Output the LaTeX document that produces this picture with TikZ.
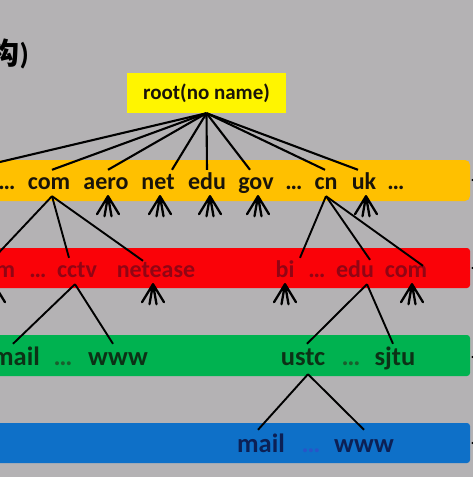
\documentclass[tikz,border=0pt]{standalone}
\usepackage{fontspec}
\setmainfont{Carlito}
\newfontfamily\cjk{Noto Sans CJK SC}
\definecolor{bg}{RGB}{180,178,180}
\definecolor{rootyellow}{RGB}{255,245,0}
\definecolor{bandyellow}{RGB}{255,192,0}
\definecolor{bandred}{RGB}{250,2,8}
\definecolor{bandgreen}{RGB}{0,178,80}
\definecolor{bandblue}{RGB}{14,112,200}
\definecolor{ytxt}{RGB}{25,20,10}
\definecolor{rtxt}{RGB}{145,5,20}
\definecolor{gtxt}{RGB}{12,50,22}
\definecolor{gdot}{RGB}{25,95,45}
\definecolor{btxt}{RGB}{12,32,85}
\definecolor{bdot}{RGB}{40,85,200}
\newcommand\drawfan[1]{%
  \draw[fanline] (#1) -- ++(-11,18) (#1) -- ++(-3.5,20) (#1) -- ++(3.5,20) (#1) -- ++(11,18);}
\begin{document}
\begin{tikzpicture}[x=1pt,y=-1pt,
  word/.style={anchor=base, inner sep=2pt, font=\bfseries\fontsize{24}{24}\selectfont, text height=17pt, text depth=5pt},
  yword/.style={word, text=ytxt},
  rword/.style={word, text=rtxt},
  gword/.style={word, font=\bfseries\fontsize{26.5}{27}\selectfont, text height=19pt, text depth=7pt, text=gtxt},
  bword/.style={word, font=\bfseries\fontsize{26.5}{27}\selectfont, text height=20pt, text depth=6pt, text=btxt},
  link/.style={draw=black, line width=1.9pt},
  rootlink/.style={draw=black, line width=2.1pt},
  fanline/.style={draw=black, line width=2.3pt, line cap=round},
  band/.style={rounded corners=3pt}]
\useasboundingbox (0,0) rectangle (473,477);
\clip (0,0) rectangle (473,477);
\fill[bg] (0,0) rectangle (473,477);

% title fragment
\node[anchor=base west, inner sep=0pt, font=\cjk\bfseries\fontsize{30}{30}\selectfont, text=black] (title) at (-11,64) {构};
\node[anchor=base west, inner sep=0pt, font=\bfseries\fontsize{30}{30}\selectfont, text=black] (paren) at (title.base east) {)};

% bands
\fill[bandyellow, band, rounded corners=5pt] (-20,160) rectangle (470,201);
\fill[bandred, band] (-20,248) rectangle (470,288);
\fill[bandgreen, band] (-20,335) rectangle (470,376);
\fill[bandblue, band] (-20,423) rectangle (470,463);

% root
\node[fill=rootyellow, minimum width=159pt, minimum height=40pt, inner sep=0pt,
      font=\bfseries\fontsize{21}{21}\selectfont, text=ytxt] (root) at (206.5,93) {root(no name)};

% top-level domains
\coordinate (yl) at (-34,170);
\node[yword] (yd1) at (7,189) {…};
\node[yword] (ycom) at (49,189) {com};
\node[yword] (yaero) at (106,189) {aero};
\node[yword] (ynet) at (158,189) {net};
\node[yword] (yedu) at (207,189) {edu};
\node[yword] (ygov) at (256,189) {gov};
\node[yword] (yd2) at (294,189) {…};
\node[yword] (ycn) at (326,189) {cn};
\node[yword] (yuk) at (364,189) {uk};
\node[yword] (yd3) at (396,189) {…};

% second level
\node[rword] (rcoml) at (-6,277) {com};
\node[rword] (rd1) at (38,277) {…};
\node[rword] (rcctv) at (77,277) {cctv};
\node[rword] (rnet) at (156,277) {netease};
\node[rword] (rbi) at (285,277) {bi};
\node[rword] (rd2) at (317,277) {…};
\node[rword] (redu) at (355,277) {edu};
\node[rword] (rcom) at (406,277) {com};

% third level
\node[gword] (gmail) at (16,365) {mail};
\node[gword, text=gdot] (gd1) at (63,365) {…};
\node[gword] (gwww) at (118,365) {www};
\node[gword] (gustc) at (303,365) {ustc};
\node[gword, text=gdot] (gd2) at (351,365) {…};
\node[gword] (gsjtu) at (395,365) {sjtu};

% fourth level
\node[bword] (bmail) at (261,452) {mail};
\node[bword, text=bdot] (bd) at (311,452) {…};
\node[bword] (bwww) at (364,452) {www};

% root links
\draw[rootlink] (root.south) -- (yl);
\draw[rootlink] (root.south) -- ([xshift=3pt]ycom.north);
\draw[rootlink] (root.south) -- ([xshift=2pt]yaero.north);
\draw[rootlink] (root.south) -- ([xshift=14pt]ynet.north);
\draw[rootlink] (root.south) -- (yedu.north);
\draw[rootlink] (root.south) -- ([xshift=-6pt]ygov.north);
\draw[rootlink] (root.south) -- ([xshift=-1pt]ycn.north);
\draw[rootlink] (root.south) -- ([xshift=-6pt]yuk.north);

% second-level links
\draw[link] ([xshift=3pt]ycom.south) -- (rcoml.north);
\draw[link] ([xshift=3pt]ycom.south) -- ([xshift=-8pt]rcctv.north);
\draw[link] ([xshift=3pt]ycom.south) -- ([xshift=-13pt,yshift=-3pt]rnet.north);
\draw[link] (ycn.south) -- ([xshift=15pt]rbi.north);
\draw[link] (ycn.south) -- ([xshift=15pt,yshift=-2pt]redu.north);
\draw[link] (ycn.south) -- ([xshift=17pt,yshift=-8pt]rcom.north);

% third-level links
\draw[link] ([xshift=-2pt]rcctv.south) -- ([xshift=-3pt]gmail.north);
\draw[link] ([xshift=-2pt]rcctv.south) -- ([xshift=-5pt]gwww.north);
\draw[link] ([xshift=12pt]redu.south) -- ([xshift=4pt]gustc.north);
\draw[link] ([xshift=12pt]redu.south) -- ([xshift=-2pt]gsjtu.north);

% fourth-level links
\draw[link] ([xshift=5pt]gustc.south) -- ([xshift=-3pt]bmail.north);
\draw[link] ([xshift=5pt]gustc.south) -- (bwww.north);

% subtree fans
\drawfan{[xshift=2pt]yaero.south}
\drawfan{[xshift=2pt]ynet.south}
\drawfan{[xshift=3pt]yedu.south}
\drawfan{[xshift=2pt]ygov.south}
\drawfan{[xshift=2pt]yuk.south}
\drawfan{rcoml.south}
\drawfan{[xshift=-3pt]rnet.south}
\drawfan{rbi.south}
\drawfan{[xshift=6pt]rcom.south}

% right-edge marks
\foreach \yy in {180,268,357,443} \fill[black] (472.5,\yy) circle (1.1pt);
\end{tikzpicture}
\end{document}
